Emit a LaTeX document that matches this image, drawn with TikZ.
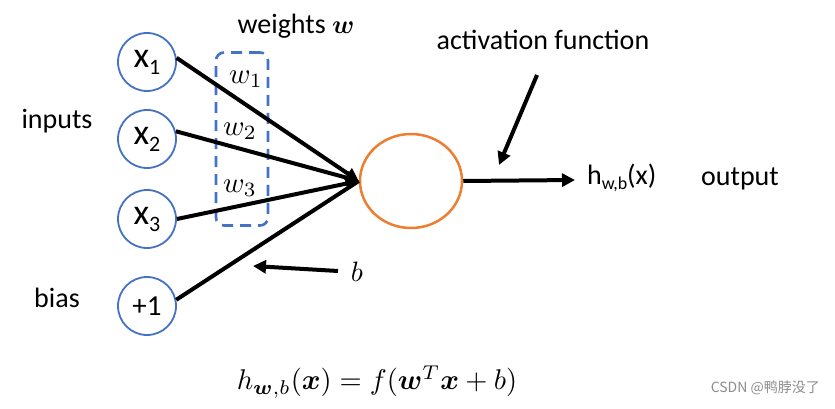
\documentclass[tikz,border=0pt]{standalone}
\usepackage{graphicx}
\usepackage{bm}
\usepackage{fontspec}
\setmainfont{Carlito}
\newfontfamily\cjkfont{Noto Sans CJK SC}
\usetikzlibrary{arrows.meta,shapes.geometric}
\definecolor{inblue}{HTML}{4472C4}
\definecolor{actor}{HTML}{ED7D31}
\newcommand{\xsub}[1]{{\fontsize{36}{38}\selectfont x}\raisebox{-7pt}{\fontsize{22}{24}\selectfont #1}}
\newcommand{\mathsc}[2]{{\normalsize\scalebox{#1}{$#2$}}}
\begin{document}
\begin{tikzpicture}[x=1pt,y=-1pt,
  inp/.style={draw=inblue, line width=1.8pt, circle, minimum size=58pt, inner sep=0pt},
  conn/.style={line width=4pt, -{Triangle[length=13pt,width=13pt]}},
  lab/.style={font=\fontsize{28}{30}\selectfont}]
\useasboundingbox (0,0) rectangle (835,409);
% input neurons
\node[inp] (x1) at (147,62) {\xsub{1}};
\node[inp] (x2) at (147,139) {\xsub{2}};
\node[inp] (x3) at (147,219) {\xsub{3}};
\node[inp] (one) at (147,306) {\fontsize{29}{31}\selectfont +1};
% activation neuron
\node[draw=actor, line width=2.5pt, ellipse, minimum width=102pt, minimum height=94pt] (n) at (411,181) {};
% weights box
\node[draw=inblue, line width=2.6pt, rounded corners=8pt, dash pattern=on 11pt off 7pt,
  minimum width=52pt, minimum height=173pt, inner sep=0pt] (wbox) at (242,139) {};
% connectors
\draw[conn] (x1.8) -- (n.west);
\draw[conn] (x2.15) -- (n.west);
\draw[conn] (x3.east) -- (n.west);
\draw[conn, -] (one.12) -- (n.west);
% weight labels
\node (w1) at (246,79) {\mathsc{2.9}{w_1}};
\node (w2) at (240,131) {\mathsc{2.9}{w_2}};
\node (w3) at (240,188) {\mathsc{2.9}{w_3}};
\node[lab] (wt) at (296,26) {weights \mathsc{2.6}{\bm{w}}};
\node[lab] (inp) at (57,121) {inputs};
\node[lab] (bias) at (57,298) {bias};
% bias arrow
\node (blab) at (357,272) {\mathsc{2.8}{b}};
\coordinate (bs) at (338,271);
\coordinate (bh) at (253,266);
\draw[conn] (bs) -- (bh);
% activation function
\node[lab] (af) at (543,40) {activation function};
\coordinate (afs) at (537,75);
\coordinate (afh) at (499,165);
\draw[conn] (afs) -- (afh);
% output
\node[lab, anchor=west, inner sep=0pt] (hout) at (587,178) {h\raisebox{-5pt}{\fontsize{18}{20}\selectfont w,b}(x)};
\draw[conn] (n.east) -- ([xshift=-12pt,yshift=-2pt]hout.west);
\node[lab] (outl) at (740,179) {output};
% formula
\node (form) at (377,382) {\mathsc{2.85}{h_{\bm{w},b}(\bm{x}) = f(\bm{w}^T\bm{x} + b)}};
\node[anchor=east, text=black!45, inner sep=0pt] (wm) at (820,388) {\cjkfont\fontsize{14}{16}\selectfont CSDN @鸭脖没了};
\end{tikzpicture}
\end{document}
